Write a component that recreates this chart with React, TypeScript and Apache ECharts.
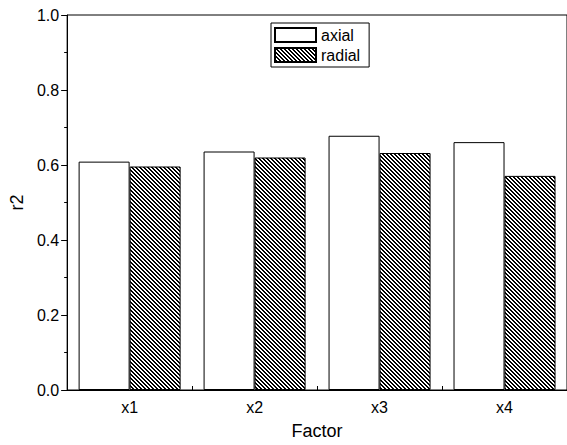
import React, { useEffect, useRef } from "react";
import * as echarts from "echarts";

const categories = ["x1", "x2", "x3", "x4"];
const axialValues = [0.609, 0.636, 0.678, 0.661];
const radialValues = [0.596, 0.62, 0.632, 0.571];
const yTicks = [0, 0.2, 0.4, 0.6, 0.8, 1.0];

function makeHatch(): HTMLCanvasElement {
  const c = document.createElement("canvas");
  c.width = 4;
  c.height = 4;
  const ctx = c.getContext("2d")!;
  ctx.fillStyle = "#ffffff";
  ctx.fillRect(0, 0, 4, 4);
  ctx.fillStyle = "#000000";
  for (let i = 0; i < 4; i++) {
    ctx.fillRect(i, i, 1, 1);
    ctx.fillRect((i + 1) % 4, i, 1, 1);
  }
  return c;
}

export default function App() {
  const ref = useRef<HTMLDivElement>(null);
  useEffect(() => {
    if (!ref.current) return;
    const chart = echarts.init(ref.current, undefined, { renderer: "svg" });
    const font = "Liberation Sans, Arial, sans-serif";
    const hatch = makeHatch();
    chart.setOption({
      animation: false,
      backgroundColor: "#ffffff",
      textStyle: { fontFamily: font },
      grid: {
        left: 65,
        top: 15,
        width: 504,
        height: 375,
        show: true,
        borderColor: "#000",
        borderWidth: 1,
        backgroundColor: "transparent",
      },
      legend: {
        orient: "vertical",
        left: 271,
        top: 23,
        padding: [4, 9, 4, 3],
        itemWidth: 41,
        itemHeight: 14,
        itemGap: 4,
        borderColor: "#000",
        borderWidth: 1,
        icon: "rect",
        textStyle: { fontSize: 16, color: "#000", fontFamily: font },
        data: ["axial", "radial"],
      },
      xAxis: {
        type: "category",
        data: categories,
        name: "Factor",
        nameLocation: "middle",
        nameGap: 32,
        nameTextStyle: { fontSize: 18, color: "#000", fontFamily: font },
        axisLine: { lineStyle: { color: "#000", width: 1 } },
        axisTick: { show: true, inside: true, length: 4, lineStyle: { color: "#000" } },
        axisLabel: { fontSize: 16, color: "#000", margin: 9, fontFamily: font },
        splitLine: { show: false },
      },
      yAxis: {
        type: "value",
        min: 0,
        max: 1,
        interval: 0.2,
        name: "r2",
        nameLocation: "middle",
        nameGap: 36,
        nameTextStyle: { fontSize: 18, color: "#000", fontFamily: font },
        axisLine: { show: true, lineStyle: { color: "#000", width: 1 } },
        axisTick: { show: true, inside: false, length: 6, lineStyle: { color: "#000" } },
        minorTick: { show: true, splitNumber: 2, length: 3, lineStyle: { color: "#000" } },
        axisLabel: {
          fontSize: 16,
          color: "#000",
          margin: 8,
          fontFamily: font,
          formatter: (v: number) => (yTicks.some((t) => Math.abs(t - v) < 1e-9) ? v.toFixed(1) : ""),
        },
        splitLine: { show: false },
      },
      series: [
        {
          name: "axial",
          type: "bar",
          data: axialValues,
          barWidth: 51,
          barGap: "0%",
          itemStyle: { color: "#ffffff", borderColor: "#000", borderWidth: 1 },
        },
        {
          name: "radial",
          type: "bar",
          data: radialValues,
          barWidth: 51,
          barGap: "0%",
          itemStyle: {
            color: { image: hatch, repeat: "repeat" },
            borderColor: "#000",
            borderWidth: 1,
          },
        },
      ],
    });
    return () => chart.dispose();
  }, []);
  return <div ref={ref} style={{ width: 567, height: 445, position: "absolute", left: 0, top: 0 }} />;
}
